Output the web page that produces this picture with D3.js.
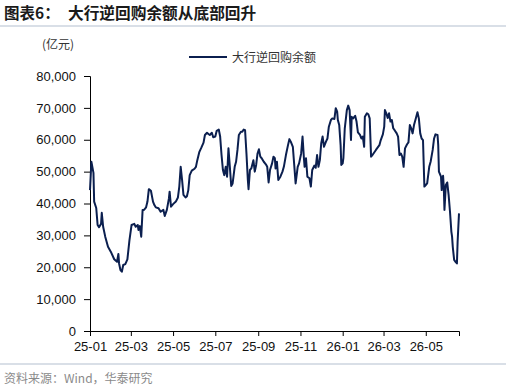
<!DOCTYPE html>
<html><head><meta charset="utf-8">
<script src="https://cdn.jsdelivr.net/npm/d3@7"></script>
<style>html,body{margin:0;padding:0;background:#fff;}svg{display:block;}</style>
</head><body>
<svg id="chart" width="506" height="392"></svg>
<script>
// ---- data ----
const startDate = "2025-01-01";
const dayOffsets = [0,2,5,6,9,11,13,16,17,19,22,26,30,35,39,41,42,44,46,48,51,54,57,60,64,66,69,70,72,74,76,78,81,83,85,88,91,93,95,99,102,106,108,111,114,115,117,120,124,127,129,131,133,135,138,140,142,144,147,151,153,155,158,161,164,166,169,171,173,176,178,181,183,186,188,190,192,194,196,198,200,202,204,206,209,211,213,215,218,220,222,224,226,228,229,231,233,236,238,240,242,244,246,248,251,254,256,258,260,263,265,267,268,270,272,275,278,280,283,286,288,290,293,295,297,300,302,305,307,309,310,312,314,317,319,321,324,326,328,330,332,334,336,338,341,343,345,348,350,353,355,357,358,360,362,363,365,366,368,371,373,375,377,378,380,383,385,387,390,392,394,396,397,400,402,404,406,408,413,418,420,423,425,426,428,430,432,434,436,438,440,443,445,447,449,451,453,455,458,460,462,464,466,468,470,473,475,477,479,481,483,485,487,490,492,495,497,499,502,503,504,507,508,510,511,512,514,516,518,520,522,523,524,526,528,530,531,533];
const balance = [44200,53100,49600,40600,38600,33250,32600,33600,37100,32700,29600,26400,24900,22500,21700,24150,21200,19100,18600,20700,21000,22500,28500,33250,33600,32700,33250,31700,32900,29600,38000,38000,38800,40600,44500,44000,40600,39500,38800,38500,37400,38000,36100,38000,41600,43700,39000,39800,40600,41900,45300,51500,47400,42700,41900,42300,44200,48900,50300,50900,51500,53600,56200,57600,59100,61500,62200,61800,61500,62200,60800,61000,62800,63200,61000,55200,50500,48900,51500,48400,57300,51500,45500,46300,51500,53100,56800,61500,62500,62500,63200,63000,55700,47400,44500,50500,51000,53600,50000,52100,55700,57000,54700,54200,53100,52300,51500,46600,50500,52600,54700,54200,51000,53100,47400,48400,50000,51500,55200,58300,60200,59400,57800,52100,46300,51500,52600,55700,61000,54200,51500,54200,48400,47900,45300,50500,51900,51200,55200,51500,53600,58900,61000,57800,59500,60400,64100,66200,66700,66500,69900,68800,66200,64600,58300,52100,52600,54200,63600,69300,70700,69300,59900,67200,66700,67500,65700,62300,61500,60400,61000,57800,67200,68300,68000,66700,54700,55200,56800,58300,59900,61700,64100,69300,68300,66800,68300,65700,66200,63600,63000,62000,61000,55200,55700,54700,51500,57300,58600,59200,64600,63600,62000,64600,66200,68600,66700,62000,60400,59900,45300,45800,46300,51500,53100,56800,60400,61700,61500,58300,50000,48400,44200,48700,45300,38000,45800,46600,42700,37400,31100,29600,26400,22300,21700,21200,28000,36900];
const yTicks = [0,10000,20000,30000,40000,50000,60000,70000,80000];
const xTickLabels = ["25-01","25-03","25-05","25-07","25-09","25-11","26-01","26-03","26-05"];
const seriesName = "大行逆回购余额";
const titlePrefix = "图表6：";
const titleText = "大行逆回购余额从底部回升";
const unitText = "(亿元)";
const sourceText = "资料来源：Wind，华泰研究";

// ---- build ----
const parse = d3.timeParse("%Y-%m-%d");
const t0 = parse(startDate);
const data = dayOffsets.map((d,i)=>({date:d3.timeDay.offset(t0,d), v:balance[i]}));
const xTickDates = xTickLabels.map(s=>parse("20"+s+"-01"));

const svg = d3.select("#chart");
const m = {left:90, right:47, top:76, bottom:61};
const W = 506, H = 392;
const x = d3.scaleTime().domain([t0, data[data.length-1].date]).range([m.left, W-m.right]);
const y = d3.scaleLinear().domain([0,80000]).range([H-m.bottom, m.top]);

const cjk = "'Noto Sans CJK SC','Noto Sans',sans-serif";
const latin = "'Liberation Sans',Arial,sans-serif";

// title
svg.append("text").attr("x",4).attr("y",19).attr("font-family",cjk).attr("font-weight","700")
  .attr("font-size",15.5).attr("fill","#1a1a1a").text(titlePrefix);
svg.append("text").attr("x",68).attr("y",19).attr("font-family",cjk).attr("font-weight","700")
  .attr("font-size",15.7).attr("fill","#1a1a1a").text(titleText);
svg.append("line").attr("x1",0).attr("x2",506).attr("y1",26).attr("y2",26).attr("stroke","#b4c0d0").attr("stroke-width",1.2);
svg.append("line").attr("x1",0).attr("x2",506).attr("y1",364).attr("y2",364).attr("stroke","#b4c0d0").attr("stroke-width",1.2);

// unit
svg.append("text").attr("x",42).attr("y",49).attr("font-family",cjk).attr("font-size",12).attr("fill","#333").text(unitText);

// legend
svg.append("line").attr("x1",189).attr("x2",227).attr("y1",57).attr("y2",57).attr("stroke","#0b1f4f").attr("stroke-width",2.2);
svg.append("text").attr("x",232).attr("y",61.5).attr("font-family",cjk).attr("font-size",12).attr("fill","#333").text(seriesName);

// axes
const yAxis = svg.append("g").attr("transform",`translate(${m.left},0)`)
  .call(d3.axisLeft(y).tickValues(yTicks).tickSize(6).tickPadding(8).tickFormat(d3.format(",")));
const xAxis = svg.append("g").attr("transform",`translate(0,${H-m.bottom})`)
  .call(d3.axisBottom(x).tickValues(xTickDates).tickSize(5).tickPadding(6).tickFormat((d,i)=>xTickLabels[i]));
[yAxis,xAxis].forEach(g=>{
  g.select(".domain").attr("stroke","#000").attr("stroke-width",1);
  g.selectAll(".tick line").attr("stroke","#000");
  g.selectAll("text").attr("font-family",latin).attr("font-size",13).attr("fill","#111");
});

// line
svg.append("path").datum(data).attr("fill","none").attr("stroke","#0b1f4f").attr("stroke-width",2)
  .attr("stroke-linejoin","round").attr("d", d3.line().x(d=>x(d.date)).y(d=>y(d.v)));

// source
svg.append("text").attr("x",4).attr("y",383).attr("font-family",cjk).attr("font-size",12).attr("fill","#8a8a8a").text(sourceText);
</script>
</body></html>
